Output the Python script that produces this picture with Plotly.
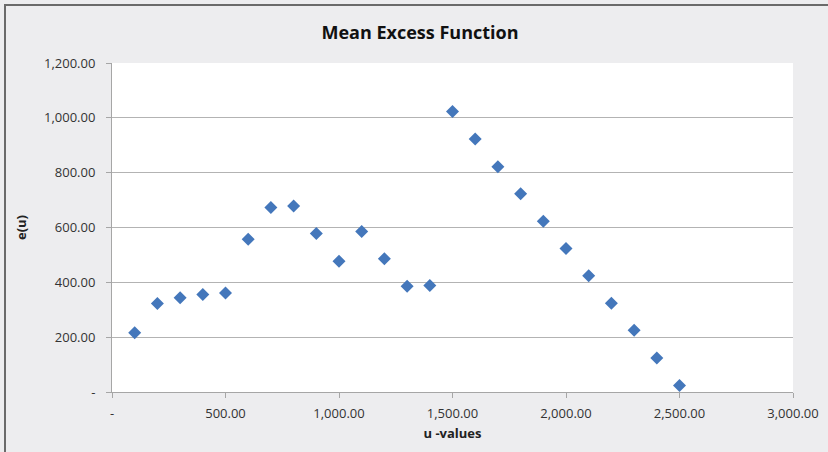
import plotly.graph_objects as go

u_values = [100, 200, 300, 400, 500, 600, 700, 800, 900, 1000, 1100, 1200, 1300,
            1400, 1500, 1600, 1700, 1800, 1900, 2000, 2100, 2200, 2300, 2400, 2500]
e_u = [216, 323, 344, 356, 361, 557, 673, 678, 578, 477, 585, 486, 386,
       388, 1023, 923, 822, 723, 623, 523, 424, 324, 225, 124, 24]

x_tickvals = [0, 500, 1000, 1500, 2000, 2500, 3000]
x_ticktext = ["-", "500.00", "1,000.00", "1,500.00", "2,000.00", "2,500.00", "3,000.00"]
y_tickvals = [0, 200, 400, 600, 800, 1000, 1200]
y_ticktext = ["-", "200.00", "400.00", "600.00", "800.00", "1,000.00", "1,200.00"]

W, H = 828, 452
L, R, T, B = 112, 35, 63, 60
pw, ph = W - L - R, H - T - B

fig = go.Figure()
fig.add_trace(go.Scatter(
    x=u_values, y=e_u, mode="markers",
    marker=dict(symbol="diamond", size=10, color="#4477BB",
                line=dict(width=0)),
    showlegend=False,
))

font_family = "Open Sans, Liberation Sans, sans-serif"

fig.update_layout(
    width=W, height=H,
    margin=dict(l=L, r=R, t=T, b=B, autoexpand=False),
    paper_bgcolor="#EDEDEF",
    plot_bgcolor="#FFFFFF",
    font=dict(family=font_family, size=13, color="#333333"),
    title=dict(text="<b>Mean Excess Function</b>", x=420 / W, xanchor="center",
               y=1 - 33 / H, yanchor="middle",
               font=dict(size=18, color="#111111")),
    xaxis=dict(range=[0, 3000], tickvals=x_tickvals, ticktext=x_ticktext,
               automargin=False,
               showgrid=False, zeroline=False, showline=True, linecolor="#A6A6A6",
               linewidth=1, ticks="outside", ticklen=5, tickcolor="#A6A6A6",
               ticklabelstandoff=4,
               tickfont=dict(size=13, color="#333333"),
               title=dict(text="<b>u -values</b>", font=dict(size=13, color="#222222"),
                          standoff=8)),
    yaxis=dict(range=[0, 1200], tickvals=y_tickvals, ticktext=y_ticktext,
               automargin=False,
               showgrid=True, gridcolor="#B3B3B3", gridwidth=1,
               zeroline=False, showline=True, linecolor="#A6A6A6",
               linewidth=1, ticks="outside", ticklen=5, tickcolor="#A6A6A6",
               ticklabelstandoff=8,
               tickfont=dict(size=13, color="#333333"),
               title=dict(text="<b>e(u)</b>", font=dict(size=13, color="#222222"),
                          standoff=14)),
)

# outer chart border (left and top visible)
fig.add_shape(type="rect", xref="paper", yref="paper",
              x0=(5 - L) / pw, x1=(W + 5 - L) / pw,
              y0=-(B + 5) / ph, y1=1 + (T - 5) / ph,
              line=dict(color="#6A6A6A", width=2), layer="below")

fig.write_html("out.html")
